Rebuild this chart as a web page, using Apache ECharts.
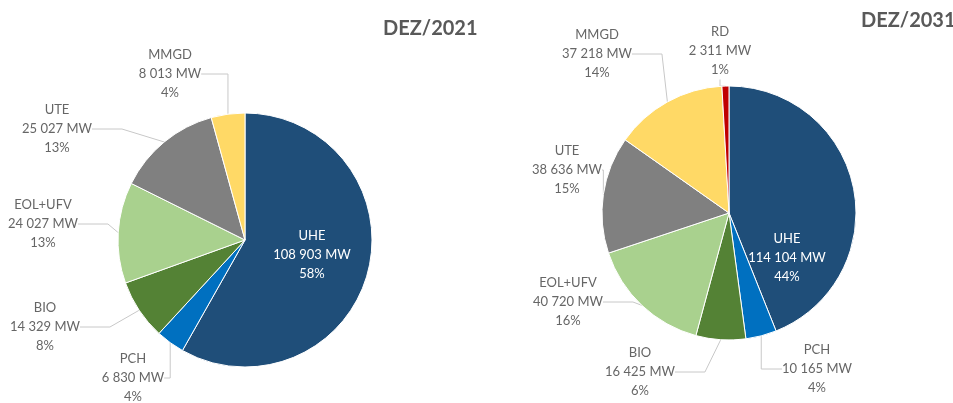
<!DOCTYPE html>
<html lang="pt">
<head>
  <meta charset="UTF-8">
  <title>Capacidade instalada</title>
  <script src="https://cdn.jsdelivr.net/npm/echarts@6/dist/echarts.min.js"></script>
  <style>
    html, body { margin: 0; padding: 0; background: #fff; }
  </style>
</head>
<body>
<div id="chart" style="width: 953px;height: 403px"></div>
</body>
<script>

  var chart = echarts.init(document.getElementById('chart'));

  // dados
  var titles = ['DEZ/2021', 'DEZ/2031'];
  var names2021 = ['UHE', 'PCH', 'BIO', 'EOL+UFV', 'UTE', 'MMGD'];
  var values2021 = [108903, 6830, 14329, 24027, 25027, 8013];
  var names2031 = ['UHE', 'PCH', 'BIO', 'EOL+UFV', 'UTE', 'MMGD', 'RD'];
  var values2031 = [114104, 10165, 16425, 40720, 38636, 37218, 2311];

  var colors = {
    'UHE': '#1f4e79',
    'PCH': '#0070c0',
    'BIO': '#548235',
    'EOL+UFV': '#a9d18e',
    'UTE': '#808080',
    'MMGD': '#ffd966',
    'RD': '#c00000'
  };

  // label centres (layout only)
  var labelPos2021 = [[312, 255], [133, 378], [45, 327], [43, 224], [57, 129], [170, 74]];
  var labelPos2031 = [[787, 258], [817, 369], [640, 372], [568, 302], [567, 170], [597, 54], [720, 51]];

  function fmt(v) {
    return String(v).replace(/\B(?=(\d{3})+(?!\d))/g, ' ');
  }

  function buildData(names, values) {
    return names.map(function (n, i) {
      var item = {name: n, value: values[i], itemStyle: {color: colors[n]}};
      if (n === 'UHE') {
        item.label = {position: 'inside', color: '#fff'};
        item.labelLine = {show: false};
      }
      return item;
    });
  }

  function buildSeries(names, values, center, pos) {
    return {
      type: 'pie',
      center: center,
      radius: 127,
      startAngle: 90,
      clockwise: true,
      animation: false,
      itemStyle: {borderColor: '#fff', borderWidth: 1},
      label: {
        show: true,
        position: 'outside',
        color: '#666',
        fontFamily: 'Lato',
        fontSize: 13,
        lineHeight: 19,
        align: 'center',
        overflow: 'none',
        formatter: function (p) {
          return p.name + '\n' + fmt(p.value) + ' MW\n' + Math.round(p.percent) + '%';
        }
      },
      labelLine: {
        show: true,
        lineStyle: {color: '#c8c8c8', width: 1}
      },
      labelLayout: function (p) {
        var xy = pos[p.dataIndex];
        return {x: xy[0], y: xy[1], align: 'center', verticalAlign: 'middle'};
      },
      data: buildData(names, values)
    };
  }

  var titleStyle = {color: '#595959', fontSize: 20, fontWeight: 'bold', fontFamily: 'Lato'};

  var option = {
    title: [
      {text: titles[0], left: 378, top: 14, textStyle: titleStyle},
      {text: titles[1], left: 856, top: 6, textStyle: titleStyle}
    ],
    series: [
      buildSeries(names2021, values2021, [245, 240], labelPos2021),
      buildSeries(names2031, values2031, [729, 213], labelPos2031)
    ]
  };

  chart.setOption(option);

</script>
</html>
